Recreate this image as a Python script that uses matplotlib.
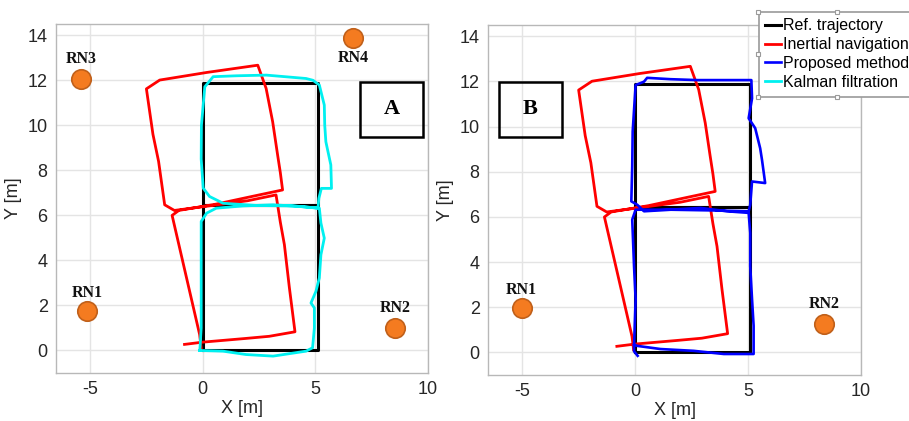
import matplotlib
matplotlib.use("Agg")
import matplotlib.pyplot as plt
from matplotlib.patches import Rectangle
from matplotlib.lines import Line2D

# ---------------- data ----------------
ref_x = [0, 0, 5.1, 5.1, 0, 0, 5.1, 5.1, 0]
ref_y = [0, 6.45, 6.45, 11.9, 11.9, 6.45, 6.45, 0, 0]

inertial_x = [-0.06, -0.13, -0.75, -1.35, -1.05, 0.6, 2.0, 3.55, 3.45, 3.33, 3.11, 2.82, 2.45,
              0.2, -1.90, -2.49, -2.2, -1.95, -1.68, -1.25, 0.5, 2.0, 3.26, 3.45, 3.63, 3.85,
              4.10, 2.96, 1.86, 0.0, -0.80]
inertial_y = [0.12, 0.71, 3.4, 6.0, 6.22, 6.5, 6.8, 7.13, 7.9, 8.68, 10.16, 11.64, 12.67,
              12.35, 12.01, 11.62, 9.6, 8.4, 6.47, 6.22, 6.45, 6.65, 6.91, 5.7, 4.70, 2.8,
              0.83, 0.63, 0.53, 0.37, 0.27]

kalman_x = [-0.12, -0.06, -0.06, -0.06, 0.18, 0.61, 1.8, 3.13, 4.3, 5.12, 5.16, 5.27, 5.72,
            5.69, 5.47, 5.42, 5.40, 5.18, 4.9, 4.59, 2.83, 1.5, 0.47, 0.10, -0.05, -0.06,
            0.03, 0.31, 0.91, 2.39, 4.0, 5.18, 5.25, 5.40, 5.25, 5.18, 5.03, 4.81, 4.96,
            4.96, 4.88, 4.59, 3.13, 1.93, 0.91, -0.12]
kalman_y = [0.0, 1.0, 3.96, 5.73, 6.10, 6.32, 6.42, 6.47, 6.40, 6.32, 6.76, 7.2, 7.2,
            8.24, 9.27, 10.0, 10.9, 11.79, 12.0, 12.08, 12.23, 12.2, 12.16, 11.71, 10.0, 8.5,
            7.21, 6.84, 6.54, 6.44, 6.42, 6.32, 5.66, 4.99, 4.25, 3.22, 2.63, 2.11, 1.89,
            1.0, 0.12, -0.03, -0.25, -0.18, -0.03, 0.0]

proposed_x = [0.12, -0.04, -0.04, 0.03, -0.04, -0.12, 0.03, 0.40, 1.57, 3.34, 5.03, 5.10,
              5.18, 5.76, 5.62, 5.54, 5.32, 5.03, 5.18, 5.15, 3.93, 2.75, 1.57, 0.54, 0.40,
              0.03, -0.10, -0.12, -0.16, 0.10, 0.40, 1.57, 2.90, 4.07, 5.03, 5.10, 5.10,
              5.18, 5.25, 5.25, 3.93, 2.60, 1.13, 0.10, -0.04]
proposed_y = [-0.15, 0.05, 0.29, 2.35, 3.82, 5.88, 6.32, 6.32, 6.32, 6.29, 6.25, 6.54,
              7.57, 7.50, 8.53, 9.04, 9.93, 10.37, 11.25, 12.06, 12.06, 12.06, 12.10, 12.16, 11.99,
              11.84, 9.78, 8.24, 6.69, 6.54, 6.25, 6.32, 6.40, 6.25, 6.18, 5.29, 3.82,
              2.35, 1.18, -0.07, -0.07, 0.07, 0.15, 0.29, 0.35]

anchors_A_names = ["RN1", "RN2", "RN3", "RN4"]
anchors_A_x = [-5.13, 8.55, -5.40, 6.67]
anchors_A_y = [1.74, 1.0, 12.05, 13.9]
anchors_A_label_y = [2.56, 1.89, 12.93, 13.0]

anchors_B_names = ["RN1", "RN2"]
anchors_B_x = [-5.01, 8.37]
anchors_B_y = [1.96, 1.25]
anchors_B_label_y = [2.76, 2.13]

legend_labels = ["Ref. trajectory", "Inertial navigation", "Proposed method", "Kalman filtration"]
x_ticks = [-5, 0, 5, 10]
y_ticks = [0, 2, 4, 6, 8, 10, 12, 14]

# ---------------- style ----------------
plt.rcParams['font.family'] = ['Liberation Sans', 'DejaVu Sans']
plt.rcParams['axes.unicode_minus'] = False
W, H = 909, 421
fig = plt.figure(figsize=(W / 100, H / 100), dpi=100)
fig.patch.set_facecolor('white')

C_RED = '#ff0000'
C_CYAN = '#00f0f0'
C_BLUE = '#0000ff'
C_ORANGE = '#f47b20'
C_ORANGE_EDGE = '#c0601a'
TXT = '#262626'

def setup(ax):
    ax.set_xlim(-6.5, 10)
    ax.set_ylim(-1, 14.5)
    ax.set_xticks(x_ticks)
    ax.set_yticks(y_ticks)
    ax.grid(True, color='#e4e4e4', linewidth=1.0)
    ax.set_axisbelow(True)
    for s in ax.spines.values():
        s.set_color('#b8b8b8')
        s.set_linewidth(1.0)
    ax.tick_params(length=0, labelsize=13, colors=TXT, pad=6)
    ax.set_xlabel('X [m]', fontsize=13, color=TXT, labelpad=1)
    ax.set_ylabel('Y [m]', fontsize=13, color=TXT, labelpad=4)

def anchors(ax, names, xs, ys, lys):
    ax.plot(xs, ys, linestyle='none', marker='o', markersize=14,
            markerfacecolor=C_ORANGE, markeredgecolor=C_ORANGE_EDGE, markeredgewidth=1.2, zorder=5)
    for n, x, ly in zip(names, xs, lys):
        ax.text(x, ly, n, ha='center', va='center', fontsize=11.5, fontweight='bold',
                family=['Liberation Serif', 'DejaVu Serif'], color='#111111', zorder=6)

def label_box(ax, x0, y0, x1, y1, letter):
    ax.add_patch(Rectangle((x0, y0), x1 - x0, y1 - y0, fill=False, edgecolor='black',
                           linewidth=1.8, zorder=6))
    ax.text((x0 + x1) / 2, (y0 + y1) / 2, letter, ha='center', va='center', fontsize=16,
            fontweight='bold', family=['Liberation Serif', 'DejaVu Serif'], zorder=7)

# ---------------- panel A ----------------
axA = fig.add_axes([56 / W, 1 - 373 / H, 372 / W, 349 / H])
setup(axA)
axA.plot(ref_x, ref_y, color='black', linewidth=2.2, zorder=2)
axA.plot(inertial_x, inertial_y, color=C_RED, linewidth=2.0, zorder=3)
axA.plot(kalman_x, kalman_y, color=C_CYAN, linewidth=2.0, zorder=4)
anchors(axA, anchors_A_names, anchors_A_x, anchors_A_y, anchors_A_label_y)
label_box(axA, 6.99, 9.50, 9.76, 11.93, 'A')

# ---------------- panel B ----------------
axB = fig.add_axes([488 / W, 1 - 375 / H, 373 / W, 350 / H])
setup(axB)
lr, = axB.plot(ref_x, ref_y, color='black', linewidth=2.2, zorder=2)
li, = axB.plot(inertial_x, inertial_y, color=C_RED, linewidth=2.0, zorder=3)
lp, = axB.plot(proposed_x, proposed_y, color=C_BLUE, linewidth=1.9, zorder=4)
anchors(axB, anchors_B_names, anchors_B_x, anchors_B_y, anchors_B_label_y)
label_box(axB, -6.0, 9.56, -3.24, 11.99, 'B')

lk = Line2D([], [], color=C_CYAN, linewidth=2.0)
leg = fig.legend([lr, li, lp, lk], legend_labels, loc='upper left',
                 bbox_to_anchor=(758.5 / W, 1 - 11.7 / H), borderaxespad=0,
                 fontsize=11.5, frameon=True, fancybox=False, borderpad=0.42,
                 labelspacing=0.24, handlelength=1.0, handletextpad=0.1)
leg.get_frame().set_edgecolor('#9a9a9a')
leg.get_frame().set_linewidth(1.2)
leg.get_frame().set_facecolor('white')
leg.get_frame().set_alpha(1.0)

# selection handles on the legend frame corners / mid-points
fig.canvas.draw()
bb = leg.get_window_extent().transformed(fig.transFigure.inverted())
xm = (bb.x0 + bb.x1) / 2
ym = (bb.y0 + bb.y1) / 2
fig.add_artist(Line2D([bb.x0, xm, bb.x0, bb.x0, xm], [bb.y1, bb.y1, ym, bb.y0, bb.y0],
                      linestyle='none', marker='s', markersize=3.5, markerfacecolor='white',
                      markeredgecolor='#9a9a9a', markeredgewidth=0.8,
                      transform=fig.transFigure, zorder=10))

fig.savefig('out.png', dpi=100)
